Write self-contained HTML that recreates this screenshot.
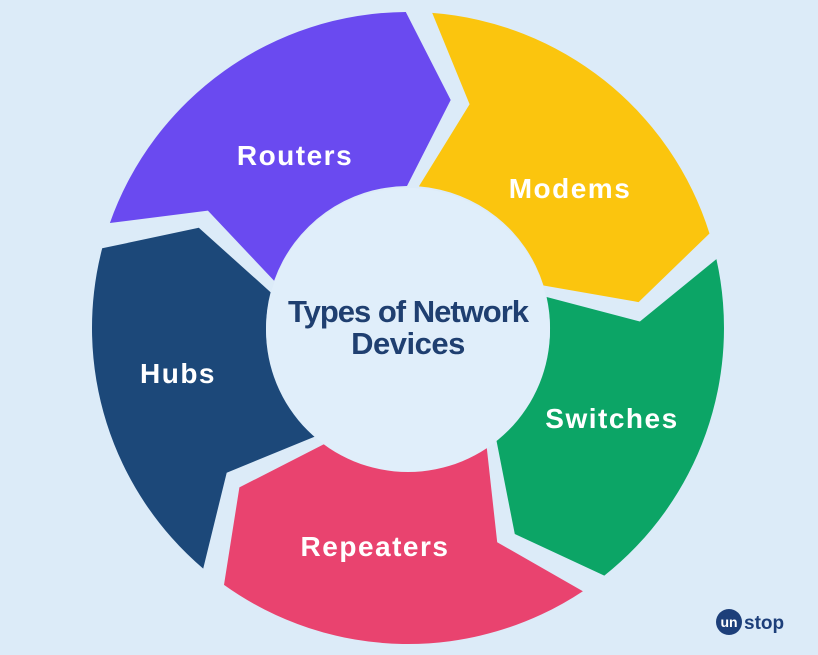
<!DOCTYPE html>
<html><head><meta charset="utf-8"><style>
html,body{margin:0;padding:0;background:#dcebf8;}
svg{display:block;}
text{font-family:"Liberation Sans",sans-serif;font-weight:bold;}
</style></head><body>
<svg id="s" width="818" height="655" viewBox="0 0 818 655">
<rect width="818" height="655" fill="#dcebf8"/>
<g id="g"></g>
<circle cx="408" cy="330" r="142" fill="#e0eefa"/>
<text x="408" y="322" text-anchor="middle" font-size="31" fill="#1f3f70" letter-spacing="-1">Types of Network</text>
<text x="408" y="354" text-anchor="middle" font-size="31" fill="#1f3f70" letter-spacing="-0.5">Devices</text>
<g fill="#fff" font-size="28" text-anchor="middle" letter-spacing="1.5">
<text x="295" y="165">Routers</text>
<text x="570" y="198">Modems</text>
<text x="612" y="428">Switches</text>
<text x="178" y="383">Hubs</text>
<text x="375" y="556">Repeaters</text>
</g>
<circle cx="729" cy="622" r="13" fill="#1d3f7a"/>
<text x="729" y="627" text-anchor="middle" font-size="14" fill="#fff">un</text>
<text x="744" y="629" font-size="19" fill="#1d3f7a">stop</text>
</svg>
<script>
var cx=408,cy=328,R=316,r=142,m=232,d=11,g=2.4;
var segs=[[197,272,"#6a4af0"],[272,345,"#fbc50e"],[345,414,"#0ca566"],[414,488,"#e9436f"],[488,557,"#1c4879"]];
function p(rad,a){a=a*Math.PI/180;return (cx+rad*Math.cos(a)).toFixed(1)+","+(cy+rad*Math.sin(a)).toFixed(1);}
var h="";
segs.forEach(function(s){
 var a0=s[0]+g,a1=s[1]-g;
 var dd="M"+p(R,a0)+" A"+R+","+R+" 0 0 1 "+p(R,a1)+" L"+p(m,a1+d)+" L"+p(r,a1)+" A"+r+","+r+" 0 0 0 "+p(r,a0)+" L"+p(m,a0+d)+" Z";
 h+='<path d="'+dd+'" fill="'+s[2]+'"/>';
});
document.getElementById("g").innerHTML=h;
</script>
</body></html>
